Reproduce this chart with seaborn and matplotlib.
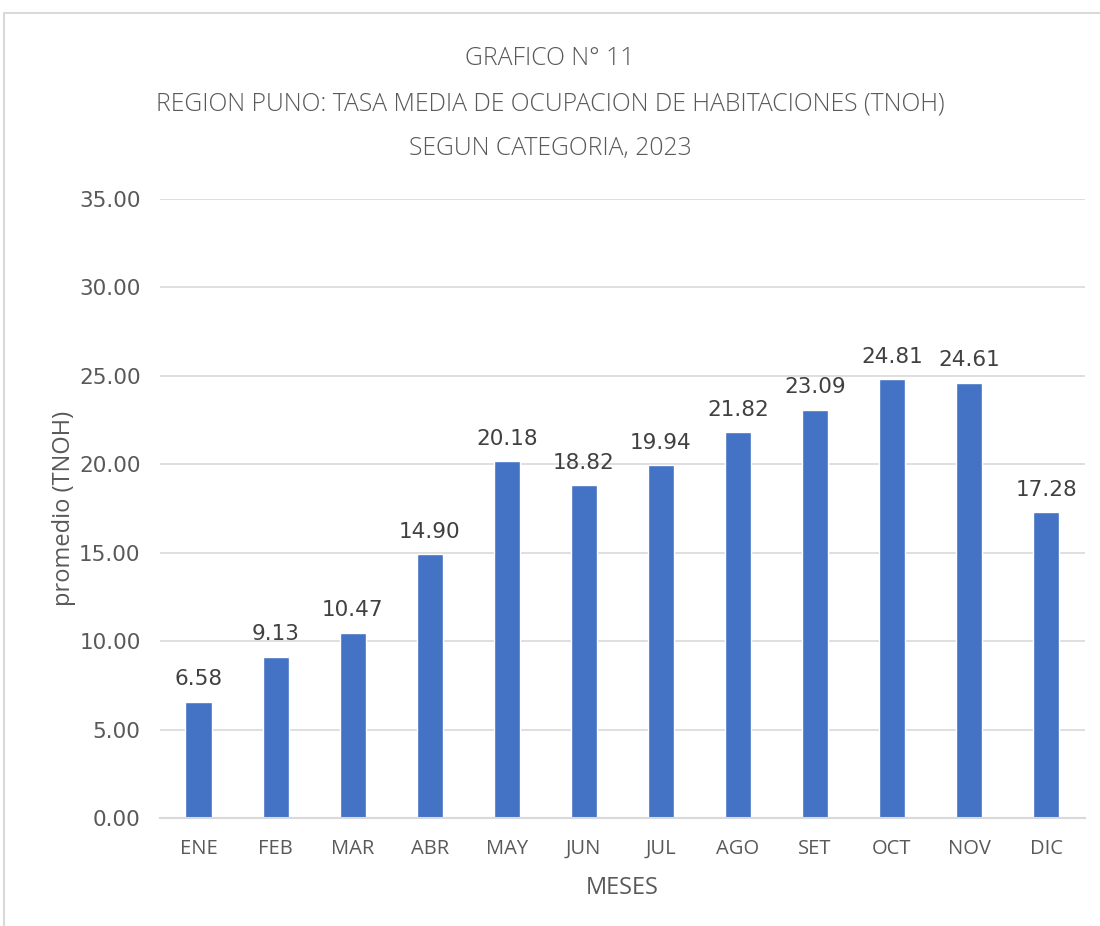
import matplotlib
matplotlib.use("Agg")
import matplotlib.pyplot as plt
import seaborn as sns
import pandas as pd

# ==============================
# DATA
# ==============================

meses = ["ENE", "FEB", "MAR", "ABR", "MAY", "JUN", "JUL", "AGO", "SET", "OCT", "NOV", "DIC"]
tnoh = [6.58, 9.13, 10.47, 14.90, 20.18, 18.82, 19.94, 21.82, 23.09, 24.81, 24.61, 17.28]
yticks = [0, 5, 10, 15, 20, 25, 30, 35]

titulo = "GRAFICO N° 11\nREGION PUNO: TASA MEDIA DE OCUPACION DE HABITACIONES (TNOH)\nSEGUN CATEGORIA, 2023"

BAR_COLOR = "#4472C4"
GRAY = "#595959"

# ==============================
# PLOT
# ==============================

sns.set_style("white")
plt.rcParams["font.family"] = ["Open Sans", "DejaVu Sans"]

df = pd.DataFrame({"mes": meses, "tnoh": tnoh})

fig = plt.figure(figsize=(11, 9.26), dpi=100)
ax = fig.add_axes([0.1455, 0.1166, 0.8405, 0.6686])

sns.barplot(data=df, x="mes", y="tnoh", color=BAR_COLOR, width=0.34, saturation=1, ax=ax)

ax.set_ylim(0, 35)
ax.set_yticks(yticks)
ax.set_yticklabels([f"{v:.2f}" for v in yticks], family="DejaVu Sans", fontsize=15.5)
ax.yaxis.grid(True, color="#D9D9D9", linewidth=1.2)
ax.set_axisbelow(True)
ax.set_xlim(-0.5, len(meses) - 0.5)

for s in ["top", "right", "left"]:
    ax.spines[s].set_visible(False)
ax.spines["bottom"].set_color("#D9D9D9")
ax.spines["bottom"].set_linewidth(1.5)

ax.tick_params(axis="both", length=0, colors=GRAY)
ax.tick_params(axis="x", labelsize=14.5, pad=15)
ax.tick_params(axis="y", pad=14)

for i, v in enumerate(tnoh):
    ax.text(i, v + 0.7, f"{v:.2f}", ha="center", va="bottom", fontsize=15.5,
            color="#404040", family="DejaVu Sans")

ax.set_xlabel("MESES", fontsize=17, color=GRAY, labelpad=12)
ax.set_ylabel("promedio (TNOH)", fontsize=17, color=GRAY, labelpad=2)

fig.text(0.5, 0.950, titulo, ha="center", va="top", fontsize=17.8, color=GRAY,
         linespacing=2.05, fontweight="light")

# chart frame
fig.add_artist(plt.Line2D([0.004, 1.0], [0.986, 0.986], color="#D9D9D9", linewidth=1.5, transform=fig.transFigure))
fig.add_artist(plt.Line2D([0.004, 0.004], [0.0, 0.986], color="#D9D9D9", linewidth=1.5, transform=fig.transFigure))

fig.savefig("out.png", dpi=100)
